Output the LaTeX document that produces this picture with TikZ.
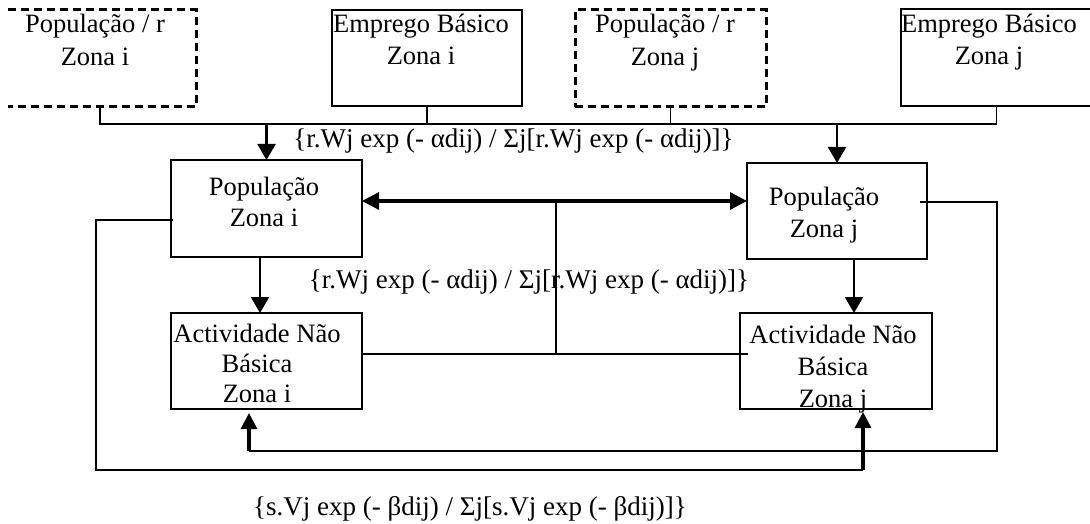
\documentclass[tikz,border=0pt]{standalone}
\usepackage{fontspec}
\setmainfont{Liberation Serif}
\usetikzlibrary{arrows.meta,calc}
\begin{document}
\begin{tikzpicture}[x=1pt,y=-1pt,
  box/.style={draw, line width=1.6pt, inner sep=0pt, outer sep=0pt},
  dline/.style={line width=3pt, dash pattern=on 8pt off 5pt},
  txt/.style={align=center, inner sep=0pt, anchor=base, font=\fontsize{26.5}{32}\selectfont},
  conn/.style={line width=1.6pt},
  arr/.style={line width=2.2pt, -{Triangle[length=16pt,width=18pt]}},
  tarr/.style={line width=3.2pt, -{Triangle[length=16pt,width=16pt]}},
  darr/.style={line width=3.2pt, {Triangle[length=17pt,width=17pt]}-{Triangle[length=17pt,width=17pt]}},
]
\useasboundingbox (0,0) rectangle (1090,524);
% boxes
\node[inner sep=0pt, outer sep=0pt, minimum width=188pt, minimum height=97pt] (b1) at (102,58.5) {};
\draw[dline] (b1.north west) -- (b1.north east) -- (b1.south east) -- (b1.south west);
\node[box] (b2) [minimum width=190pt, minimum height=96pt] at (427,58) {};
\node[box, dline] (b3) [minimum width=191pt, minimum height=97pt] at (670.5,58.5) {};
\node[box] (b4) [minimum width=191pt, minimum height=97pt] at (996.5,57.5) {};
\node[box] (popI) [minimum width=191pt, minimum height=97pt] at (266.5,208.5) {};
\node[box] (popJ) [minimum width=180pt, minimum height=96pt] at (837,211) {};
\node[box] (actI) [minimum width=191pt, minimum height=96pt] at (266.5,361) {};
\node[box] (actJ) [minimum width=192pt, minimum height=96pt] at (836,361) {};
% texts (anchor = baseline of last line)
\node[txt, font=\fontsize{26.5}{33}\selectfont] (t1) at (95,66) {População / r\\Zona i};
\node[txt] (t2) at (421,65) {Emprego Básico\\Zona i};
\node[txt, font=\fontsize{26.5}{33}\selectfont] (t3) at (665,66) {População / r\\Zona j};
\node[txt] (t4) at (989,65) {Emprego Básico\\Zona j};
\node[txt, font=\fontsize{26.5}{31}\selectfont] (t5) at (264,226) {População\\Zona i};
\node[txt] (t6) at (824,237) {População\\Zona j};
\node[txt, font=\fontsize{26.5}{30}\selectfont] (t7) at (257,402) {Actividade Não\\Básica\\Zona i};
\node[txt] (t8) at (833,407) {Actividade Não\\Básica\\Zona j};
\node[txt, font=\fontsize{27}{32}\selectfont] (f1) at (513.5,148) {\{r.Wj exp (- αdij) / Σj[r.Wj exp (- αdij)]\}};
\node[txt, font=\fontsize{27}{32}\selectfont] (f2) at (529,288) {\{r.Wj exp (- αdij) / Σj[r.Wj exp (- αdij)]\}};
\node[txt, font=\fontsize{27}{32}\selectfont] (f3) at (470,515) {\{s.Vj exp (- βdij) / Σj[s.Vj exp (- βdij)]\}};
% top collector
\coordinate (hl) at (100,124);
\coordinate (hr) at (b4.south |- hl);
\draw[conn] ($(b1.south)+(-2,0)$) -- (hl) -- (hr) -- (b4.south);
\draw[conn] (b2.south) -- (b2.south |- hl);
\draw[conn] (b3.south) -- (b3.south |- hl);
\draw[arr] (popI.north |- hl) -- (popI.north);
\draw[arr] (popJ.north |- hl) -- (popJ.north);
% population exchange
\draw[darr] (popI.east |- 0,201) -- (popJ.west |- 0,201);
\coordinate (m1) at (556,201);
\coordinate (m2) at (556,354);
\draw[conn] (m1) -- (m2);
\draw[conn] (actI.east |- m2) -- ($(actJ.west |- m2)+(8,0)$);
% population to activity
\draw[arr] ($(popI.south)+(-6.5,0)$) -- ($(actI.north)+(-6.5,0)$);
\draw[arr] ($(popJ.south)+(17,0)$) -- ($(actJ.north)+(18,0)$);
% left loop
\coordinate (l1) at (96,220);
\coordinate (l2) at (96,470);
\coordinate (l3) at (863,470);
\draw[conn] ($(popI.west |- l1)+(2,0)$) -- (l1) -- (l2) -- (l3);
\draw[tarr] (l3) -- ($(actJ.south -| l3)+(0,3)$);
% right loop
\coordinate (r1) at (997,202);
\coordinate (r2) at (997,451);
\coordinate (r3) at (249,451);
\draw[conn] ($(popJ.east |- r1)+(-7,0)$) -- (r1) -- (r2) -- (r3);
\draw[tarr] (r3) -- ($(actI.south -| r3)+(0,4)$);
\end{tikzpicture}
\end{document}
